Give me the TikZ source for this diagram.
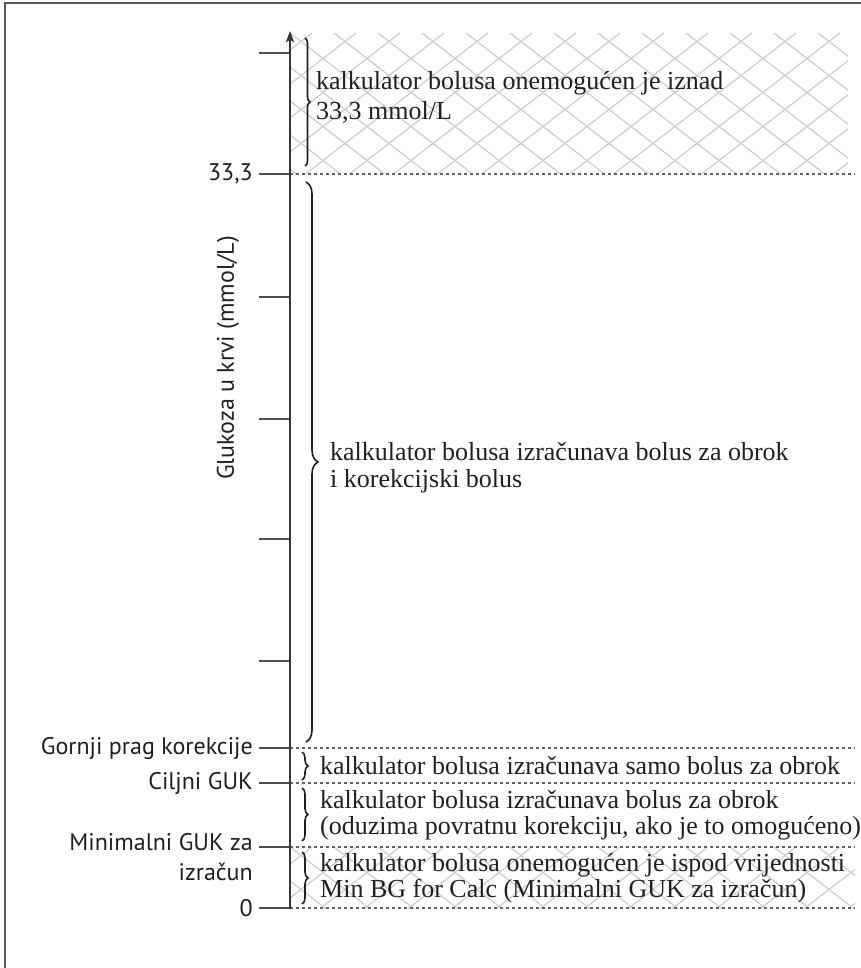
\documentclass[tikz,border=0pt]{standalone}
\usepackage{fontspec}
\setmainfont{Liberation Serif}
\newfontfamily\labelsans{PT Sans}
\usetikzlibrary{decorations.pathreplacing,arrows.meta}
\definecolor{inkc}{HTML}{231F20}
\begin{document}
\begin{tikzpicture}[x=1pt,y=-1pt,
  axisline/.style={draw=inkc!90, line width=2pt},
  tickline/.style={draw=inkc!80, line width=2pt},
  sepline/.style={draw=inkc!70, line width=1.5pt, dash pattern=on 3pt off 3pt},
  hatchline/.style={draw=black!20, line width=1.2pt},
  framel/.style={draw=black!65, line width=2pt},
  bracel/.style={draw=inkc, line width=1.6pt, decorate, decoration={brace, amplitude=#1}},
  desc/.style={anchor=west, inner sep=0pt, align=left, text=inkc},
  lab/.style={anchor=east, inner sep=0pt, align=right, text=inkc, font=\labelsans\fontsize{24}{30}\selectfont},
]
\useasboundingbox (0,0) rectangle (861,968);
% frame
\draw[framel] (5,968) -- (5,3) -- (861,3);
% hatched zones
\begin{scope}
  \clip (290,33) rectangle (848,174);
  \foreach \n in {-20,...,20} {
    \draw[hatchline] (290+\n*44,33) -- ++(400,309);
    \draw[hatchline] (290+\n*44+22,33) -- ++(-400,309);
  }
\end{scope}
\begin{scope}
  \clip (290,847) rectangle (855,908);
  \foreach \n in {-20,...,20} {
    \draw[hatchline] (290+\n*44,847) -- ++(400,309);
    \draw[hatchline] (290+\n*44+22,847) -- ++(-400,309);
  }
\end{scope}
% separator lines
\foreach \yy in {174,748,783,847,908} {
  \draw[sepline] (290,\yy) -- (855,\yy);
}
% ticks
\foreach \yy in {53,174,297,419,539,661,748,783,847,908} {
  \draw[tickline] (259,\yy) -- (290,\yy);
}
% axis
\coordinate (axbot) at (290,909);
\coordinate (axtop) at (290,31);
\draw[axisline, -{Stealth[length=11pt,width=8pt,inset=2pt]}] (axbot) -- (axtop);
% braces
\draw[bracel=5pt] (305,38) -- (305,166);
\draw[bracel=12pt] (306,182) -- (306,742);
\draw[bracel=6pt] (302,752) -- (302,780);
\draw[bracel=6pt] (302,788) -- (302,841);
\draw[bracel=6pt] (302,852) -- (302,904);
% descriptions
\node[desc, font=\fontsize{26}{30}\selectfont] (dtop) at (316,97)
  {kalkulator bolusa onemogućen je iznad\\33,3 mmol/L};
\node[desc, font=\fontsize{26}{27}\selectfont] (dmain) at (330,468)
  {kalkulator bolusa izračunava bolus za obrok\\i korekcijski bolus};
\node[desc, font=\fontsize{26}{25}\selectfont] (dsamo) at (320,766)
  {kalkulator bolusa izračunava samo bolus za obrok};
\node[desc, font=\fontsize{26}{26}\selectfont] (dkor) at (320,815)
  {kalkulator bolusa izračunava bolus za obrok\\(oduzima povratnu korekciju, ako je to omogućeno)};
\node[desc, font=\fontsize{26}{26}\selectfont] (dmin) at (320,878)
  {kalkulator bolusa onemogućen je ispod vrijednosti\\Min BG for Calc (Minimalni GUK za izračun)};
% axis labels
\node[lab] (l333) at (253,174) {33,3};
\node[lab] (lgor) at (253,748) {Gornji prag korekcije};
\node[lab] (lcil) at (253,783) {Ciljni GUK};
\node[lab, anchor=north east] (lmin) at (253,833) {Minimalni GUK za\\izračun};
\node[lab] (lzero) at (253,908) {0};
\node[lab, anchor=center, rotate=90] (lyax) at (228,358) {Glukoza u krvi (mmol/L)};
\end{tikzpicture}
\end{document}
